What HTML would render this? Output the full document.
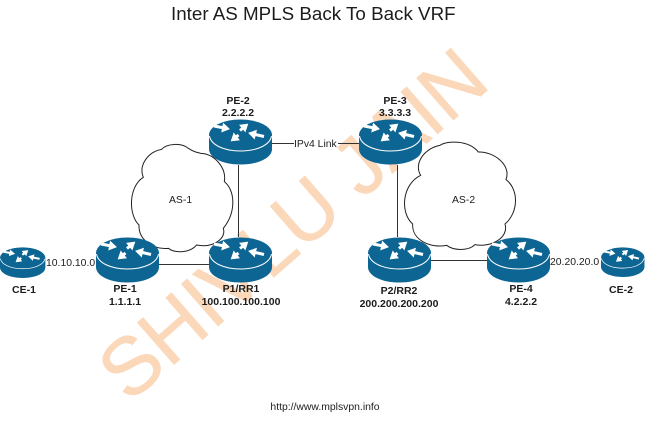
<!DOCTYPE html>
<html>
<head>
<meta charset="utf-8">
<style>
html,body{margin:0;padding:0;background:#fff}
svg{display:block}
text{font-family:"Liberation Sans",Arial,sans-serif;fill:#1c1c1c}
.b{font-weight:bold;font-size:10.5px;text-anchor:middle}
.n{font-size:10.4px}
</style>
</head>
<body>
<svg width="646" height="423" viewBox="0 0 646 423" xmlns="http://www.w3.org/2000/svg">
<defs>
<marker id="h" markerUnits="userSpaceOnUse" markerWidth="12" markerHeight="12" refX="5" refY="6" orient="auto">
<path d="M0 1L8 6L0 11Z" fill="#fff"/>
</marker>
<g id="r">
<path d="M0 16V30C0 39 14 45.500 31.500 45.500S63 39 63 30V16Z" fill="#0d6593"/>
<ellipse cx="31.500" cy="16" rx="31.500" ry="15.500" fill="#0d6593"/>
<path d="M0.500 17C2 26 15 32 31.500 32S61 26 62.500 17" fill="none" stroke="#fff" stroke-width="1"/>
<g stroke="#fff" stroke-width="3" fill="none">
<path d="M5 7L18 9.500" marker-end="url(#h)"/>
<path d="M31 11.500L37 6.500" marker-end="url(#h)"/>
<path d="M29.500 16L24 20.500" marker-end="url(#h)"/>
<path d="M55 17.500L42 14.500" marker-end="url(#h)"/>
</g>
</g>
</defs>

<rect width="646" height="423" fill="#fff"/>

<text transform="translate(129 404) rotate(-41.200)" font-size="81" textLength="483" lengthAdjust="spacing" style="fill:#fbd8ba;stroke:#fbd8ba;stroke-width:0.700">SHIVLU JAIN</text>

<text x="171" y="20" font-size="18.800">Inter AS MPLS Back To Back VRF</text>

<g stroke="#333" stroke-width="1" fill="none">
<path d="M238.500 165V237"/>
<path d="M159 264.500H209"/>
<path d="M272 143.500H294M338 143.500H359"/>
<path d="M397.500 165V237"/>
<path d="M431 260.500H487"/>
</g>

<path transform="translate(125 140) scale(0.3333)" fill="#fff" stroke="#222" stroke-width="3" d="M55 112C40 75 70 35 110 28C125 10 170 8 190 25C205 35 215 37 228 40C270 42 305 85 298 125C330 150 335 215 295 265C305 295 265 325 215 315C195 340 150 340 130 325C85 330 40 300 42 255C10 225 10 140 55 112Z"/>
<path transform="translate(400 138) scale(0.3333)" fill="#fff" stroke="#222" stroke-width="3" d="M62 112C40 75 75 30 120 22C140 8 205 5 235 42C280 40 335 80 318 125C358 155 355 225 315 258C328 300 270 330 225 320C205 340 160 338 140 322C90 332 35 305 38 258C0 225 5 140 62 112Z"/>

<use href="#r" x="209" y="119"/>
<use href="#r" x="359" y="119"/>
<use href="#r" x="96" y="237"/>
<use href="#r" x="209" y="237"/>
<use href="#r" x="368" y="237"/>
<use href="#r" x="487" y="237"/>
<use href="#r" transform="translate(0 247) scale(0.72 0.68)"/>
<use href="#r" transform="translate(601 247) scale(0.69 0.66)"/>

<text class="b" x="238" y="104">PE-2</text>
<text class="b" x="238" y="116">2.2.2.2</text>
<text class="b" x="395" y="104">PE-3</text>
<text class="b" x="395" y="116">3.3.3.3</text>
<text class="b" x="125" y="292">PE-1</text>
<text class="b" x="125" y="305">1.1.1.1</text>
<text class="b" x="241" y="292">P1/RR1</text>
<text class="b" x="241" y="305">100.100.100.100</text>
<text class="b" x="399" y="294">P2/RR2</text>
<text class="b" x="399" y="307">200.200.200.200</text>
<text class="b" x="521" y="292">PE-4</text>
<text class="b" x="521" y="305">4.2.2.2</text>
<text class="b" x="24" y="293">CE-1</text>
<text class="b" x="621" y="293">CE-2</text>

<text class="n" x="46" y="266">10.10.10.0</text>
<text class="n" x="550" y="265">20.20.20.0</text>
<text class="n" x="294" y="147">IPv4 Link</text>
<text class="n" x="169" y="203">AS-1</text>
<text class="n" x="452" y="203">AS-2</text>
<text class="n" x="325" y="410" text-anchor="middle" font-size="10">http://www.mplsvpn.info</text>
</svg>
</body>
</html>
